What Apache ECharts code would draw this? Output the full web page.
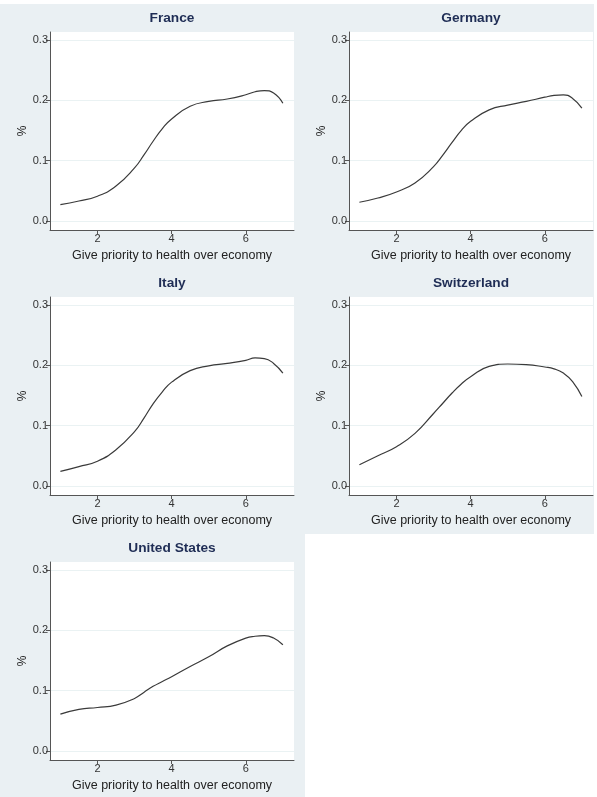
<!DOCTYPE html>
<html>
<head>
<meta charset="utf-8">
<script src="https://cdn.jsdelivr.net/npm/echarts@6/dist/echarts.min.js"></script>
<style>
html,body{margin:0;padding:0;background:#fff;}
#c{width:597px;height:797px;}
</style>
</head>
<body>
<div id="c"></div>
<script>
// ---- data ----
const countries = ['France', 'Germany', 'Italy', 'Switzerland', 'United States'];
const xValues = [1, 1.5, 2, 2.5, 3, 3.25, 3.5, 3.75, 4, 4.5, 5, 5.5, 6, 6.25, 6.5, 6.75, 7];
const france      = [0.027, 0.033, 0.041, 0.058, 0.088, 0.109, 0.132, 0.153, 0.169, 0.190, 0.198, 0.202, 0.209, 0.214, 0.216, 0.212, 0.195];
const germany     = [0.031, 0.038, 0.048, 0.063, 0.090, 0.109, 0.130, 0.150, 0.165, 0.184, 0.192, 0.198, 0.205, 0.208, 0.209, 0.203, 0.187];
const italy       = [0.024, 0.032, 0.041, 0.060, 0.090, 0.112, 0.136, 0.156, 0.172, 0.191, 0.199, 0.203, 0.208, 0.212, 0.211, 0.203, 0.187];
const switzerland = [0.035, 0.050, 0.065, 0.087, 0.120, 0.137, 0.154, 0.169, 0.181, 0.198, 0.202, 0.201, 0.197, 0.194, 0.187, 0.173, 0.148];
const unitedStates= [0.061, 0.069, 0.072, 0.076, 0.087, 0.097, 0.107, 0.115, 0.123, 0.140, 0.156, 0.174, 0.187, 0.190, 0.191, 0.187, 0.176];
const seriesValues = [france, germany, italy, switzerland, unitedStates];
const xTicks = [2, 4, 6];
const yTicks = [0, 0.1, 0.2, 0.3];
const xTitle = 'Give priority to health over economy';
const yTitle = '%';

// ---- layout ----
const FONT = 'Liberation Sans, Arial, Helvetica, sans-serif';
const colLeft = [50, 349];
const rowTop = [32, 297, 562];
const gw = 244, gh = 198;

const grids = [], xAxes = [], yAxes = [], series = [], titles = [];
countries.forEach((name, i) => {
  const col = i % 2, row = Math.floor(i / 2);
  grids.push({
    left: colLeft[col], top: rowTop[row], width: gw, height: gh,
    show: true, backgroundColor: '#ffffff', borderWidth: 0, containLabel: false
  });
  xAxes.push({
    type: 'value', gridIndex: i, min: 0.72, max: 7.3,
    name: xTitle, nameLocation: 'middle', nameGap: 19,
    nameTextStyle: { fontFamily: FONT, fontSize: 12.5, color: '#222' },
    axisLine: { show: true, onZero: false, lineStyle: { color: '#555', width: 1 } },
    axisTick: { show: true, length: 4, inside: false, customValues: xTicks, lineStyle: { color: '#555' } },
    axisLabel: { customValues: xTicks, margin: 3, fontFamily: FONT, fontSize: 11, color: '#333' },
    splitLine: { show: false }
  });
  yAxes.push({
    type: 'value', gridIndex: i, min: -0.015, max: 0.313,
    name: yTitle, nameLocation: 'middle', nameGap: 21,
    nameTextStyle: { fontFamily: FONT, fontSize: 12, color: '#222' },
    axisLine: { show: true, onZero: false, lineStyle: { color: '#555', width: 1 } },
    axisTick: { show: true, length: 4, inside: false, customValues: yTicks, lineStyle: { color: '#555' } },
    axisLabel: { customValues: yTicks, margin: 2, fontFamily: FONT, fontSize: 11, color: '#333',
                 formatter: v => Number(v).toFixed(1) },
    splitLine: { show: true, lineStyle: { color: '#eaf2f3', width: 1 } }
  });
  series.push({
    type: 'line', xAxisIndex: i, yAxisIndex: i, name: name,
    data: xValues.map((x, k) => [x, seriesValues[i][k]]),
    smooth: true, showSymbol: false, symbol: 'none',
    lineStyle: { color: '#3a3a3a', width: 1.2 },
    animation: false
  });
  titles.push({
    text: name, left: colLeft[col] + gw / 2, top: rowTop[row] - 21, textAlign: 'center', padding: 0,
    textStyle: { fontFamily: FONT, fontSize: 13.7, fontWeight: 'bold', color: '#1f2d55' }
  });
});

const chart = echarts.init(document.getElementById('c'), null, { renderer: 'canvas' });
chart.setOption({
  animation: false,
  backgroundColor: '#ffffff',
  graphic: [
    { type: 'rect', z: -10, silent: true, shape: { x: 0, y: 4, width: 594, height: 530 }, style: { fill: '#eaf0f3' } },
    { type: 'rect', z: -10, silent: true, shape: { x: 0, y: 534, width: 305, height: 263 }, style: { fill: '#eaf0f3' } }
  ],
  title: titles,
  grid: grids,
  xAxis: xAxes,
  yAxis: yAxes,
  series: series,
  tooltip: { show: false }
});
</script>
</body>
</html>
